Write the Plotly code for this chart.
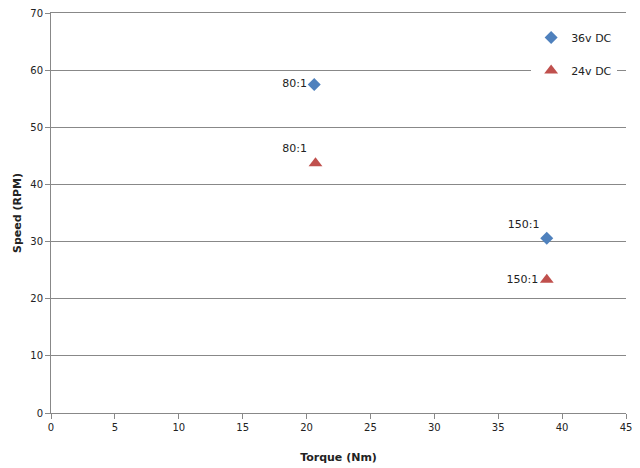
import plotly.graph_objects as go

torque_36 = [20.6, 38.8]
speed_36 = [57.5, 30.6]
labels_36 = ["80:1", "150:1"]
pos_36 = ["middle left", "top left"]

torque_24 = [20.7, 38.8]
speed_24 = [43.7, 23.3]
labels_24 = ["80:1", "150:1"]
pos_24 = ["top left", "middle left"]

font_fam = "Tahoma, Verdana, DejaVu Sans, sans-serif"

fig = go.Figure()
fig.add_trace(go.Scatter(
    x=torque_36, y=speed_36, mode="markers+text", name="36v DC",
    text=labels_36, textposition=pos_36,
    textfont=dict(size=11, color="#222", family=font_fam),
    marker=dict(symbol="diamond", size=10, color="#4F81BD"),
    legendgroup="a",
))
fig.add_trace(go.Scatter(
    x=torque_24, y=speed_24, mode="markers+text", name="24v DC",
    text=labels_24, textposition=pos_24,
    textfont=dict(size=11, color="#222", family=font_fam),
    marker=dict(symbol="triangle-up", size=12, color="#C0504D"),
    legendgroup="b",
))

fig.update_layout(
    width=640, height=468,
    margin=dict(l=51, r=14, t=13, b=55, autoexpand=False),
    paper_bgcolor="white", plot_bgcolor="white",
    font=dict(family=font_fam, size=10, color="#222"),
    showlegend=True,
    legend=dict(x=0.835, y=0.975, xanchor="left", yanchor="top",
                bgcolor="white", tracegroupgap=14, traceorder="grouped",
                font=dict(size=11, color="#222"), itemwidth=30),
    xaxis=dict(range=[0, 45], dtick=5, showgrid=False, zeroline=False,
               showline=True, linecolor="#888", linewidth=1, mirror=True,
               ticks="outside", ticklen=5, tickcolor="#888", automargin=False,
               title=dict(text="<b>Torque (Nm)</b>", font=dict(size=11), standoff=21)),
    yaxis=dict(range=[0, 70], dtick=10, showgrid=True, gridcolor="#888", gridwidth=1,
               zeroline=False, showline=True, linecolor="#888", linewidth=1,
               ticks="outside", ticklen=5, tickcolor="#888", automargin=False,
               title=dict(text="<b>Speed (RPM)</b>", font=dict(size=11), standoff=6)),
)

fig.write_html("out.html", config={"displayModeBar": False},
               post_script="document.body.style.margin='0';document.body.style.padding='0';")
